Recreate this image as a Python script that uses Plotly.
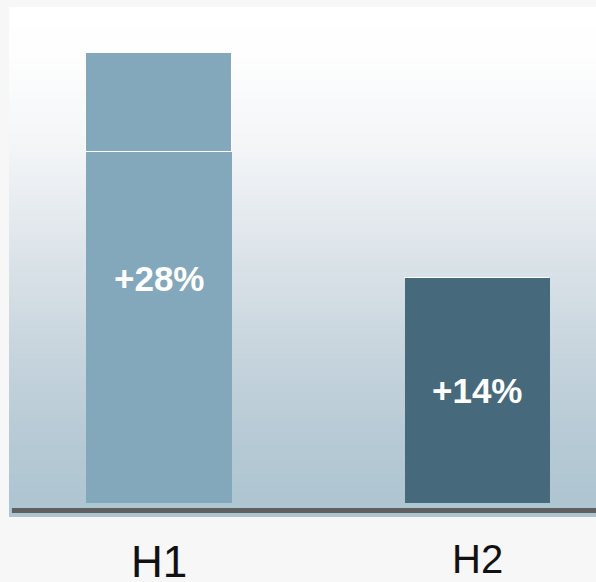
import plotly.graph_objects as go

categories = ["H1", "H2"]
base_values = [78, 50]
extra_values = [22, 0]
growth_labels = ["+28%", "+14%"]

base_colors = ["#84a8bb", "#46697c"]
extra_color = "#84a8bb"

fig = go.Figure()
fig.add_trace(go.Bar(
    x=categories, y=base_values, width=0.458,
    marker=dict(color=base_colors, line=dict(width=0)),
    hoverinfo="skip", showlegend=False,
))
fig.add_trace(go.Bar(
    x=categories, y=extra_values, width=0.458,
    marker=dict(color=extra_color, line=dict(width=1.2, color="#ffffff")),
    hoverinfo="skip", showlegend=False,
))

# gradient background (decorative)
stops = [(0.0, (255, 255, 255)), (0.09, (254, 254, 254)), (0.28, (243, 245, 247)),
         (0.48, (221, 228, 234)), (0.66, (201, 214, 222)), (0.84, (183, 202, 213)),
         (1.0, (172, 197, 209))]

def col(t):
    for (a, ca), (b, cb) in zip(stops[:-1], stops[1:]):
        if a <= t <= b:
            f = (t - a) / (b - a)
            return "rgb(%d,%d,%d)" % tuple(round(ca[i] + (cb[i] - ca[i]) * f) for i in range(3))
    return "rgb(%d,%d,%d)" % stops[-1][1]

shapes = []
n = 120
for i in range(n):
    t0 = i / n
    t1 = (i + 1) / n
    shapes.append(dict(type="rect", xref="paper", yref="paper", x0=0, x1=1,
                       y0=1 - t1, y1=1 - t0 + 0.002, fillcolor=col((t0 + t1) / 2),
                       line=dict(width=0), layer="below"))
# baseline
shapes.append(dict(type="line", xref="paper", yref="y", x0=0.005, x1=1, y0=-1.667, y1=-1.667,
                   line=dict(color="#5f5f5f", width=5), layer="above"))

annotations = []
totals = [b + e for b, e in zip(base_values, extra_values)]
for c, t, lab in zip(categories, totals, growth_labels):
    annotations.append(dict(x=c, y=t / 2, text="<b>" + lab + "</b>", showarrow=False,
                            font=dict(family="Liberation Sans, Arial, sans-serif", size=35, color="#ffffff"),
                            xanchor="center", yanchor="middle"))
label_sizes = [44, 40]
label_y = [-0.087, -0.083]
for c, s, yy in zip(categories, label_sizes, label_y):
    annotations.append(dict(x=c, y=yy, yref="paper", text=c, showarrow=False,
                            font=dict(family="Liberation Sans, Arial, sans-serif", size=s, color="#111111"),
                            xanchor="center", yanchor="middle"))

fig.update_layout(
    width=596, height=582,
    margin=dict(l=9, r=0, t=8, b=65),
    paper_bgcolor="#f7f7f7", plot_bgcolor="#ffffff",
    barmode="stack", bargap=0,
    xaxis=dict(range=[-0.471, 1.372], showticklabels=False, showgrid=False, zeroline=False,
               showline=False, ticks=""),
    yaxis=dict(range=[-3.111, 110], showticklabels=False, showgrid=False, zeroline=False,
               showline=False, ticks=""),
    shapes=shapes, annotations=annotations,
)

fig.write_html("out.html", config={"displayModeBar": False},
               post_script="document.body.style.margin='0';document.body.style.padding='0';"
                           "document.body.style.background='#f7f7f7';")
